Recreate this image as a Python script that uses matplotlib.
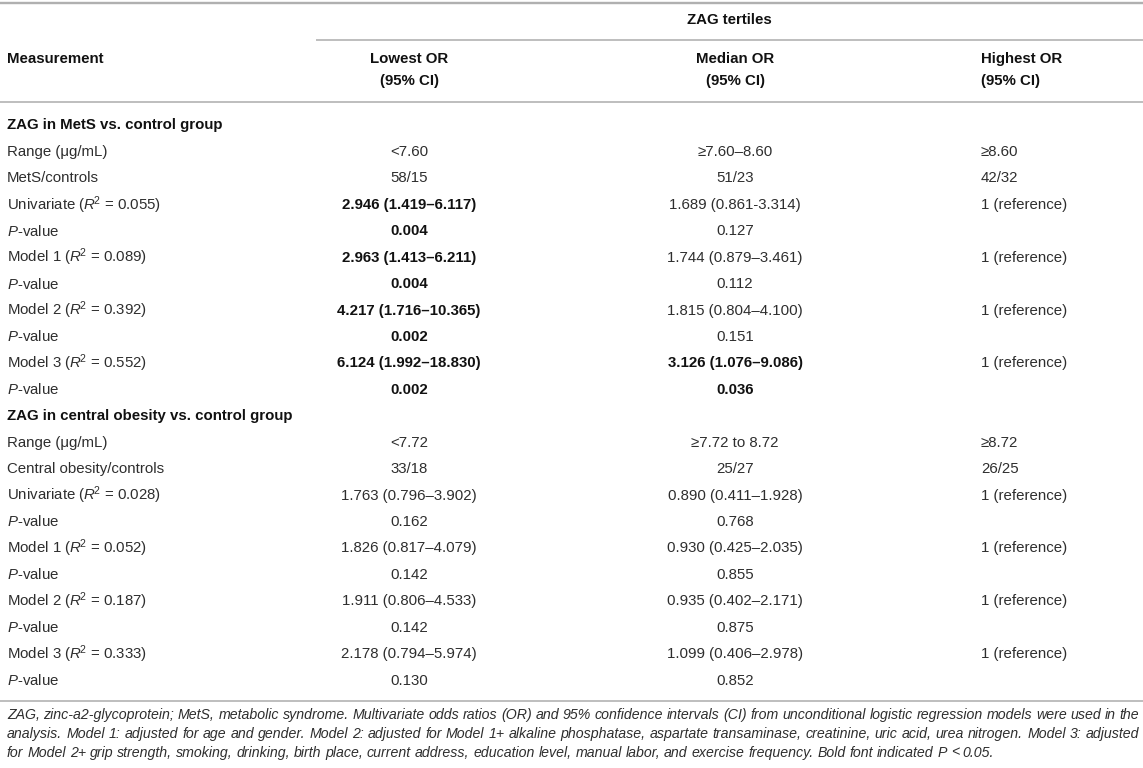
import matplotlib
matplotlib.use('Agg')
import matplotlib.pyplot as plt

# ---------------- data ----------------
group_header = "ZAG tertiles"
first_col_header = "Measurement"
col_headers = ["Lowest OR\n(95% CI)", "Median OR\n(95% CI)", "Highest OR\n(95% CI)"]

section_titles = ["ZAG in MetS vs. control group",
                  "ZAG in central obesity vs. control group"]

sec1_labels = ["Range (\u03bcg/mL)", "MetS/controls",
               r"Univariate ($R^{\!2}$ = 0.055)", r"$P$-value",
               r"Model 1 ($R^{\!2}$ = 0.089)", r"$P$-value",
               r"Model 2 ($R^{\!2}$ = 0.392)", r"$P$-value",
               r"Model 3 ($R^{\!2}$ = 0.552)", r"$P$-value"]
sec1_lowest = ["<7.60", "58/15", "2.946 (1.419\u20136.117)", "0.004",
               "2.963 (1.413\u20136.211)", "0.004", "4.217 (1.716\u201310.365)", "0.002",
               "6.124 (1.992\u201318.830)", "0.002"]
sec1_median = ["\u22657.60\u20138.60", "51/23", "1.689 (0.861-3.314)", "0.127",
               "1.744 (0.879\u20133.461)", "0.112", "1.815 (0.804\u20134.100)", "0.151",
               "3.126 (1.076\u20139.086)", "0.036"]
sec1_highest = ["\u22658.60", "42/32", "1 (reference)", "", "1 (reference)", "",
                "1 (reference)", "", "1 (reference)", ""]
sec1_lowest_bold = [False, False, True, True, True, True, True, True, True, True]
sec1_median_bold = [False, False, False, False, False, False, False, False, True, True]

sec2_labels = ["Range (\u03bcg/mL)", "Central obesity/controls",
               r"Univariate ($R^{\!2}$ = 0.028)", r"$P$-value",
               r"Model 1 ($R^{\!2}$ = 0.052)", r"$P$-value",
               r"Model 2 ($R^{\!2}$ = 0.187)", r"$P$-value",
               r"Model 3 ($R^{\!2}$ = 0.333)", r"$P$-value"]
sec2_lowest = ["<7.72", "33/18", "1.763 (0.796\u20133.902)", "0.162",
               "1.826 (0.817\u20134.079)", "0.142", "1.911 (0.806\u20134.533)", "0.142",
               "2.178 (0.794\u20135.974)", "0.130"]
sec2_median = ["\u22657.72 to 8.72", "25/27", "0.890 (0.411\u20131.928)", "0.768",
               "0.930 (0.425\u20132.035)", "0.855", "0.935 (0.402\u20132.171)", "0.875",
               "1.099 (0.406\u20132.978)", "0.852"]
sec2_highest = ["\u22658.72", "26/25", "1 (reference)", "", "1 (reference)", "",
                "1 (reference)", "", "1 (reference)", ""]
sec2_lowest_bold = [False] * 10
sec2_median_bold = [False] * 10

footnote_lines = [
    "ZAG, zinc-a2-glycoprotein; MetS, metabolic syndrome. Multivariate odds ratios (OR) and 95% confidence intervals (CI) from unconditional logistic regression models were used in the",
    "analysis. Model 1: adjusted for age and gender. Model 2: adjusted for Model 1+ alkaline phosphatase, aspartate transaminase, creatinine, uric acid, urea nitrogen. Model 3: adjusted",
    "for Model 2+ grip strength, smoking, drinking, birth place, current address, education level, manual labor, and exercise frequency. Bold font indicated P < 0.05.",
]

# ---------------- style ----------------
plt.rcParams['font.family'] = ['Liberation Sans', 'DejaVu Sans']
plt.rcParams['mathtext.fontset'] = 'custom'
plt.rcParams['mathtext.rm'] = 'Liberation Sans'
plt.rcParams['mathtext.it'] = 'Liberation Sans:italic'
plt.rcParams['mathtext.bf'] = 'Liberation Sans:bold'

W, H = 1143, 768
DPI = 100
fig = plt.figure(figsize=(W / DPI, H / DPI), dpi=DPI)
ax = fig.add_axes([0, 0, 1, 1])
ax.set_xlim(0, W)
ax.set_ylim(H, 0)
ax.axis('off')

PX = 72.0 / DPI
FS = 15.0 * PX
REG = '#2e2e2e'
BLD = '#111111'
LINE = '#b0b0b0'

x_label = 7
x_low = 409
x_med = 735
x_high = 981

def hline(y, x0=0, x1=W, lw=1.6):
    ax.plot([x0, x1], [y, y], color=LINE, lw=lw * PX, solid_capstyle='butt')

# header lines
hline(3, lw=2.4)
hline(39.5, x0=316)
hline(102)

ax.text((316 + W) / 2, 20, group_header, ha='center', va='center',
        fontsize=FS, fontweight='bold', color=BLD)
ax.text(x_label, 59, first_col_header, ha='left', va='center',
        fontsize=FS, fontweight='bold', color=BLD)
hdr_x = [x_low, x_med, x_high]
hdr_ha = ['center', 'center', 'left']
for hx, ha, txt in zip(hdr_x, hdr_ha, col_headers):
    l1, l2 = txt.split("\n")
    ax.text(hx, 59, l1, ha=ha, va='center', fontsize=FS, fontweight='bold', color=BLD)
    ax.text(hx, 81.5, l2, ha=ha, va='center', fontsize=FS, fontweight='bold', color=BLD)

# body rows
y0 = 125.5
dy = 26.43
row = 0
sections = [
    (section_titles[0], sec1_labels, sec1_lowest, sec1_median, sec1_highest, sec1_lowest_bold, sec1_median_bold),
    (section_titles[1], sec2_labels, sec2_lowest, sec2_median, sec2_highest, sec2_lowest_bold, sec2_median_bold),
]
for title, labels, low, med, high, lb, mb in sections:
    y = y0 + row * dy
    ax.text(x_label, y, title, ha='left', va='center', fontsize=FS,
            fontweight='bold', color=BLD)
    row += 1
    for lab, a, b, c, ba, bb in zip(labels, low, med, high, lb, mb):
        y = y0 + row * dy
        ax.text(x_label, y, lab, ha='left', va='center', fontsize=FS, color=REG)
        ax.text(x_low, y, a, ha='center', va='center', fontsize=FS,
                fontweight='bold' if ba else 'normal', color=BLD if ba else REG)
        ax.text(x_med, y, b, ha='center', va='center', fontsize=FS,
                fontweight='bold' if bb else 'normal', color=BLD if bb else REG)
        if c:
            ax.text(x_high, y, c, ha='left', va='center', fontsize=FS, color=REG)
        row += 1

y_bottom = y0 + (row - 1) * dy + 20
hline(y_bottom)

# footnote (justified italic text)
FN_FS = 14.1 * PX
fn_x0, fn_x1 = 7, 1139
fn_y = [y_bottom + 14, y_bottom + 33, y_bottom + 52]
renderer = fig.canvas.get_renderer()
fp = dict(fontsize=FN_FS, fontstyle='italic', color=REG)

sp = ax.text(0, 0, 'a a', **fp)
sa = ax.text(0, 0, 'aa', **fp)
space_w = sp.get_window_extent(renderer=renderer).width - sa.get_window_extent(renderer=renderer).width
sp.remove(); sa.remove()

for i, line in enumerate(footnote_lines):
    words = line.split(' ')
    justify = i < len(footnote_lines) - 1
    arts, widths = [], []
    for w_ in words:
        t = ax.text(0, fn_y[i], w_, ha='left', va='center', **fp)
        arts.append(t)
        widths.append(t.get_window_extent(renderer=renderer).width)
    if justify and len(words) > 1:
        gap = (fn_x1 - fn_x0 - sum(widths)) / (len(words) - 1)
    else:
        gap = space_w
    x = fn_x0
    for t, wdt in zip(arts, widths):
        t.set_x(x)
        x += wdt + gap

fig.savefig('out.png', dpi=DPI, facecolor='white')
